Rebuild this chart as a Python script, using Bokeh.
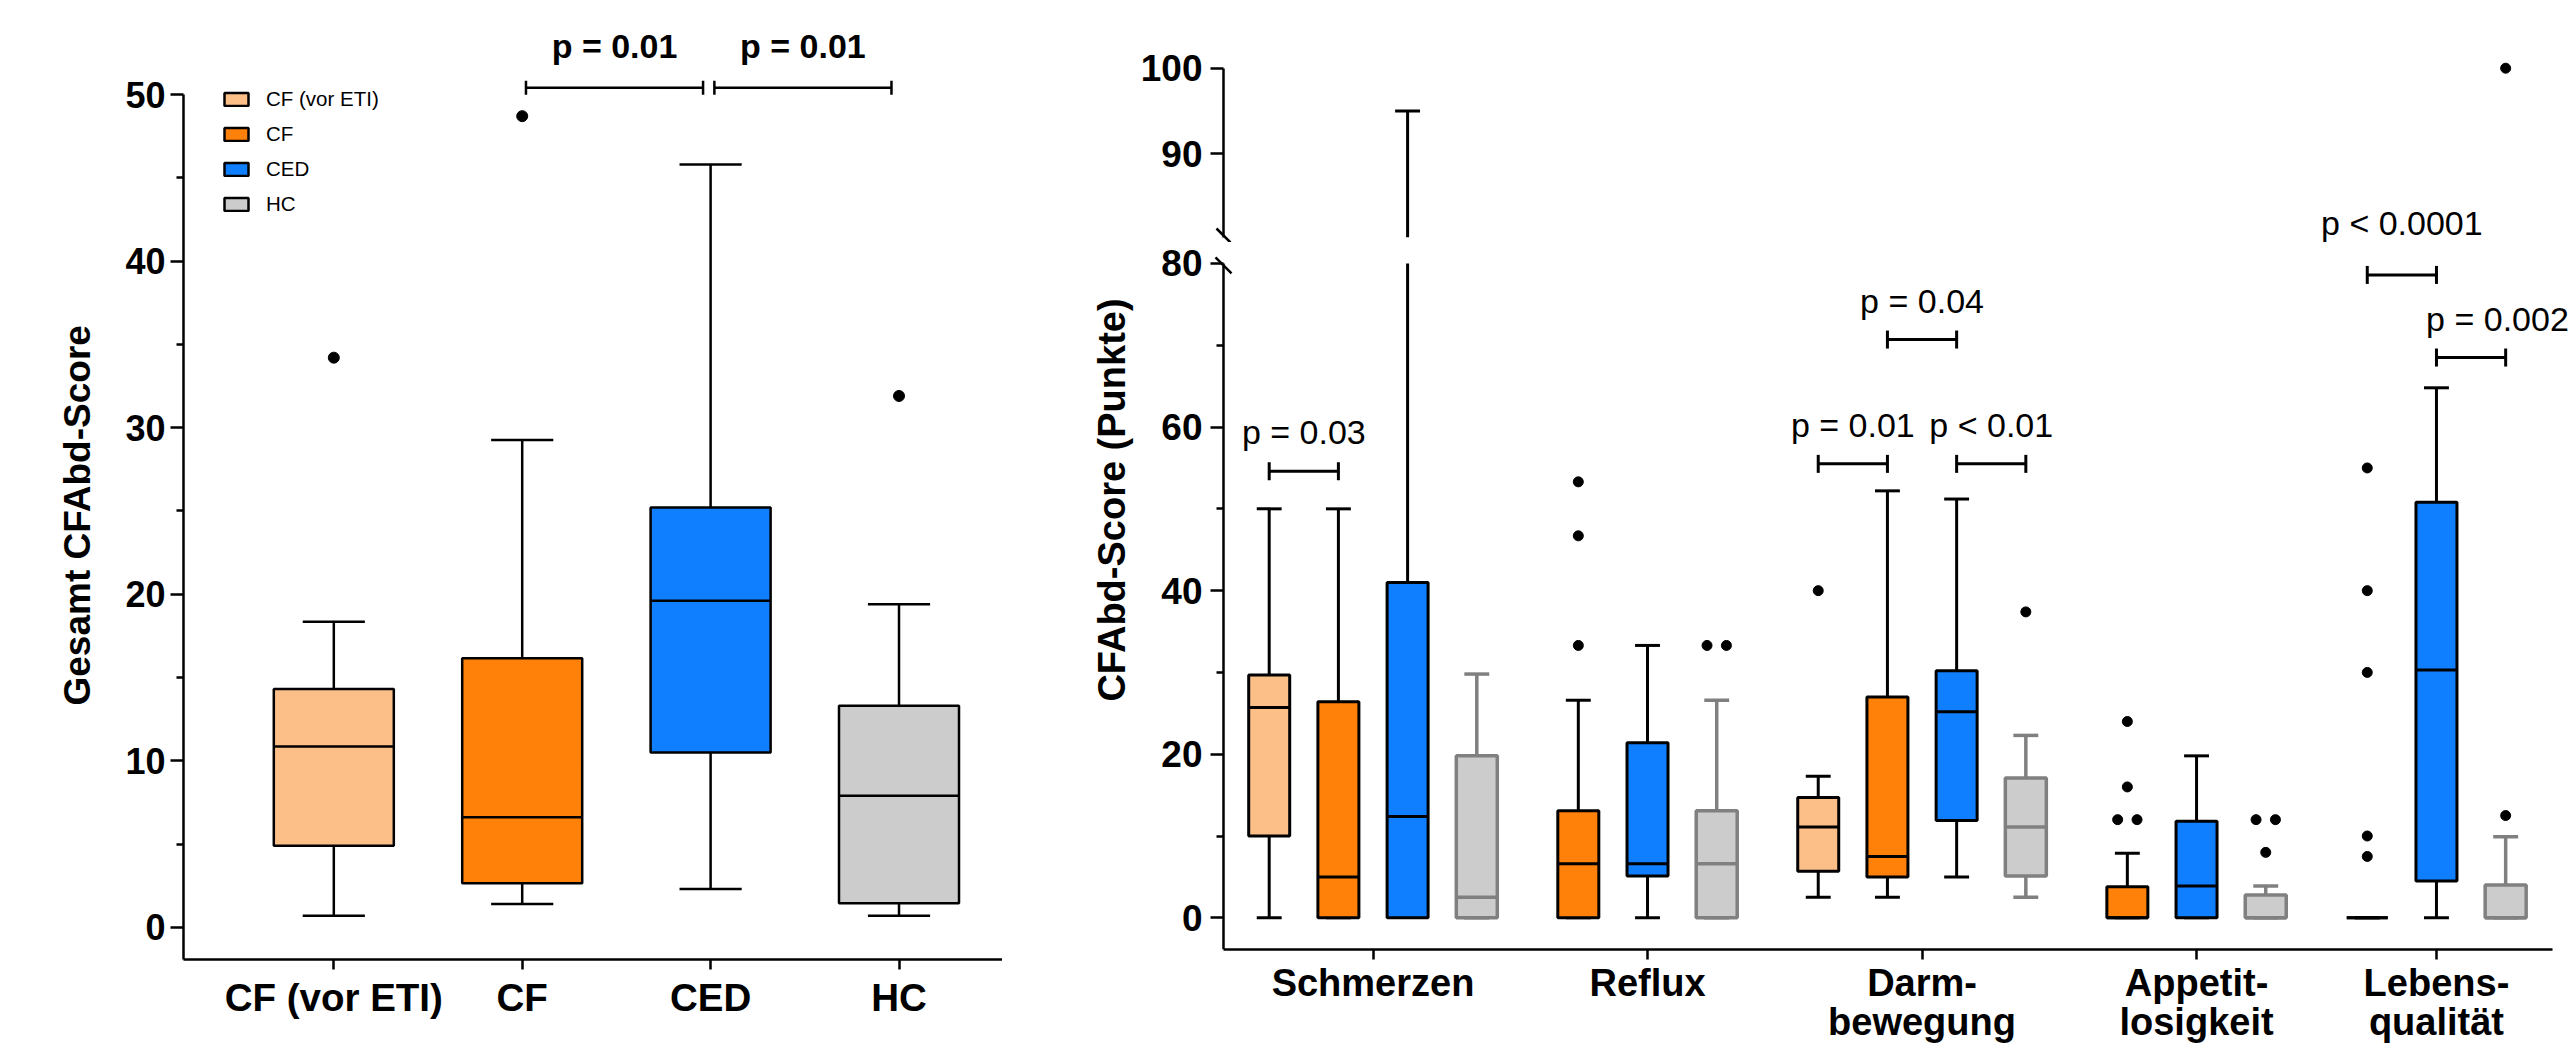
import math
from collections import defaultdict

from bokeh.embed import file_html
from bokeh.layouts import column, row
from bokeh.models import ColumnDataSource, FixedTicker, Label, Legend, LegendItem, Range1d, Title
from bokeh.plotting import figure
from bokeh.resources import INLINE

# ======================= DATA =======================
# Left panel: Gesamt CFAbd-Score
groups = ["CF (vor ETI)", "CF", "CED", "HC"]
total_low = [0.7, 1.4, 2.3, 0.7]
total_q1 = [4.9, 2.65, 10.5, 1.45]
total_median = [10.85, 6.6, 19.6, 7.9]
total_q3 = [14.3, 16.15, 25.2, 13.3]
total_high = [18.35, 29.25, 45.8, 19.4]
total_outlier_group = ["CF (vor ETI)", "CF", "HC"]
total_outlier_value = [34.2, 48.7, 31.9]
total_test_a = ["CF", "CED"]
total_test_b = ["CED", "HC"]
total_test_y = [50.4, 50.4]
total_test_text = ["p = 0.01", "p = 0.01"]

# Right panel: CFAbd domains
domains = ["Schmerzen", "Reflux", "Darm-\nbewegung", "Appetit-\nlosigkeit", "Lebens-\nqualität"]
box_domain = [0, 0, 0, 0, 1, 1, 1, 2, 2, 2, 2, 3, 3, 3, 4, 4, 4]
box_group = ["CF (vor ETI)", "CF", "CED", "HC",
             "CF", "CED", "HC",
             "CF (vor ETI)", "CF", "CED", "HC",
             "CF", "CED", "HC",
             "CF", "CED", "HC"]
dom_low = [0, 0, 0, 0, 0, 0, 0, 2.5, 2.5, 5, 2.5, 0, 0, 0, 0, 0, 0]
dom_q1 = [10, 0, 0, 0, 0, 5.1, 0, 5.7, 5, 11.9, 5.1, 0, 0, 0, 0, 4.5, 0]
dom_median = [25.7, 5, 12.4, 2.5, 6.6, 6.6, 6.6, 11.1, 7.5, 25.2, 11.1, 0, 3.9, 0, 0, 30.3, 0]
dom_q3 = [29.7, 26.4, 41, 19.8, 13.1, 21.4, 13.1, 14.7, 27, 30.2, 17.1, 3.8, 11.8, 2.8, 0, 50.8, 4]
dom_high = [50, 50, 95, 29.8, 26.6, 33.3, 26.6, 17.3, 52.2, 51.2, 22.3, 7.9, 19.8, 3.9, 0, 64.8, 9.9]
outlier_box = [4, 4, 4, 6, 6, 7, 10, 11, 11, 11, 11, 13, 13, 13, 14, 14, 14, 14, 14, 16, 16]
outlier_value = [53.3, 46.7, 33.3, 33.3, 33.3, 40, 37.4, 24, 16, 12, 12, 12, 12, 8,
                 55, 40, 30, 10, 7.5, 12.5, 100]
test_box_a = [0, 7, 8, 9, 14, 15]
test_box_b = [1, 8, 9, 10, 15, 16]
test_y = [54.6, 55.5, 70.7, 55.5, 78.6, 68.5]
test_text = ["p = 0.03", "p = 0.01", "p = 0.04", "p < 0.01", "p < 0.0001", "p = 0.002"]

# ======================= STYLE =======================
FONT = "Liberation Sans"
FILL = {"CF (vor ETI)": "#FCBF88", "CF": "#FF810A", "CED": "#0F7FFF", "HC": "#CCCCCC"}
EDGE_R = {"CF (vor ETI)": "black", "CF": "black", "CED": "black", "HC": "#808080"}
LW_R = {"CF (vor ETI)": 3.0, "CF": 3.0, "CED": 3.0, "HC": 3.5}
TEST_ALIGN = ["center", "center", "center", "center", "center", "left"]


def style_axis(ax, size, tick_out, standoff):
    ax.axis_line_width = 2.5
    ax.axis_line_color = "black"
    ax.major_tick_line_width = 2.5
    ax.minor_tick_line_width = 2.5
    ax.major_tick_line_color = "black"
    ax.minor_tick_line_color = "black"
    ax.major_tick_in = 0
    ax.minor_tick_in = 0
    ax.major_tick_out = tick_out
    ax.minor_tick_out = 7
    ax.major_label_standoff = standoff
    ax.major_label_text_font = FONT
    ax.major_label_text_font_style = "bold"
    ax.major_label_text_font_size = size
    ax.major_label_text_color = "black"


def clean(fig):
    fig.outline_line_color = None
    fig.grid.visible = False
    fig.background_fill_color = "white"
    fig.border_fill_color = "white"


TOTAL_H = 1049

# ======================= LEFT PANEL =======================
L_W = 1002
L_MT, L_MB, L_ML, L_MR = 10, 90, 183, 0
L_FRAME_H = TOTAL_H - L_MT - L_MB
L_FRAME_W = L_W - L_ML - L_MR
L_Y0 = -1.933
L_SCALE = 16.656
L_Y1 = L_Y0 + L_FRAME_H / L_SCALE
L_X0 = -0.7978
L_X1 = L_X0 + L_FRAME_W / 188.4
BW_L, CW_L = 0.637, 0.33

left = figure(width=L_W, height=TOTAL_H, x_range=Range1d(L_X0, L_X1), y_range=Range1d(L_Y0, L_Y1),
              output_backend="svg", toolbar_location=None,
              min_border_left=L_ML, min_border_right=L_MR, min_border_top=L_MT, min_border_bottom=L_MB)
clean(left)

lx = list(range(len(groups)))
lsrc = ColumnDataSource(dict(
    x=lx, lo=total_low, q1=total_q1, med=total_median, q3=total_q3, hi=total_high,
    bl=[v - BW_L / 2 for v in lx], br=[v + BW_L / 2 for v in lx],
    cl=[v - CW_L / 2 for v in lx], cr=[v + CW_L / 2 for v in lx]))
for y0, y1 in (("q3", "hi"), ("q1", "lo")):
    left.segment(x0="x", y0=y0, x1="x", y1=y1, source=lsrc, line_color="black", line_width=2.5)
for yy in ("hi", "lo"):
    left.segment(x0="cl", y0=yy, x1="cr", y1=yy, source=lsrc, line_color="black", line_width=2.5)
items = []
for i, g in enumerate(groups):
    r = left.vbar(x=[i], width=BW_L, bottom=[total_q1[i]], top=[total_q3[i]],
                  fill_color=FILL[g], line_color="black", line_width=2.5)
    items.append(LegendItem(label=g, renderers=[r]))
left.segment(x0="bl", y0="med", x1="br", y1="med", source=lsrc, line_color="black", line_width=2.5)
left.scatter(x=[groups.index(g) for g in total_outlier_group], y=total_outlier_value,
             size=11, color="black")

tk_l = 7 / L_SCALE
for a, b, y, t in zip(total_test_a, total_test_b, total_test_y, total_test_text):
    xa, xb = groups.index(a) + 0.02, groups.index(b) - 0.04
    left.segment(x0=[xa, xa, xb], y0=[y, y - tk_l, y - tk_l], x1=[xb, xa, xb], y1=[y, y + tk_l, y + tk_l],
                 line_color="black", line_width=2.5)
    left.add_layout(Label(x=(xa + xb) / 2, y=y + 41.5 / L_SCALE, text=t, text_align="center",
                          text_baseline="middle", text_font=FONT, text_font_style="bold",
                          text_font_size="34px", text_color="black"))

leg = Legend(items=items, location=(38, 743), orientation="vertical", padding=0, margin=0, spacing=11,
             glyph_width=30, glyph_height=16, label_standoff=15, label_height=16,
             label_text_font=FONT, label_text_font_size="20.5px", label_text_color="black",
             border_line_color=None, background_fill_alpha=0)
left.add_layout(leg)

yax = left.yaxis[0]
yax.ticker = FixedTicker(ticks=[0, 10, 20, 30, 40, 50], minor_ticks=[5, 15, 25, 35, 45])
yax.bounds = (L_Y0, 50)
style_axis(yax, "36px", 13, 5)
xax = left.xaxis[0]
xax.ticker = FixedTicker(ticks=lx)
xax.major_label_overrides = {i: g for i, g in enumerate(groups)}
style_axis(xax, "38.5px", 10, 6)
left.add_layout(Title(text="Gesamt CFAbd-Score", align="left", offset=254, standoff=50,
                      text_font=FONT, text_font_style="bold", text_font_size="37px",
                      text_color="black"), "left")

# ======================= RIGHT PANEL (broken y axis) =======================
GROUP_GAP = 0.467
slot = []
for k, d in enumerate(box_domain):
    if k == 0:
        slot.append(0.0)
    elif d == box_domain[k - 1]:
        slot.append(slot[-1] + 1.0)
    else:
        slot.append(slot[-1] + 1.0 + GROUP_GAP)
centers = []
for di in range(len(domains)):
    s = [slot[k] for k, d in enumerate(box_domain) if d == di]
    centers.append(sum(s) / len(s))

R_X_CANVAS = L_W
R_W = 2572 - L_W
R_ML, R_MR = 88, 0
X_SCALE = 69.2
SLOT0_PX = 1268.7          # page x of the first box
X0 = (R_X_CANVAS + R_ML - SLOT0_PX) / X_SCALE
X1 = X0 + (R_W - R_ML - R_MR) / X_SCALE
XS = (1223 - SLOT0_PX) / X_SCALE     # data x where the y axis sits
XE = (2551.6 - SLOT0_PX) / X_SCALE   # right end of the x axis line
xr = Range1d(X0, X1)
BW_R, CW_R = 0.5925, 0.36

BREAK_LOW, BREAK_HIGH = 80.0, 80.26   # axis break

TOP_H, TOP_MT, TOP_MB = 242, 40, 0
TOP_SCALE = 8.57
TOP_Y1 = 100 + (67.7 - TOP_MT) / TOP_SCALE
TOP_Y0 = TOP_Y1 - (TOP_H - TOP_MT - TOP_MB) / TOP_SCALE
LOW_H = TOTAL_H - TOP_H
LOW_MT, LOW_MB = 0, 100
LOW_SCALE = 8.179
LOW_Y0 = -3.876
LOW_Y1 = LOW_Y0 + (LOW_H - LOW_MT - LOW_MB) / LOW_SCALE

top = figure(width=R_W, height=TOP_H, x_range=xr, y_range=Range1d(TOP_Y0, TOP_Y1),
             x_axis_location=None, output_backend="svg", toolbar_location=None,
             min_border_left=R_ML, min_border_right=R_MR,
             min_border_top=TOP_MT, min_border_bottom=TOP_MB)
low = figure(width=R_W, height=LOW_H, x_range=xr, y_range=Range1d(LOW_Y0, LOW_Y1),
             output_backend="svg", toolbar_location=None,
             min_border_left=R_ML, min_border_right=R_MR,
             min_border_top=LOW_MT, min_border_bottom=LOW_MB)
clean(top)
clean(low)

n = len(slot)
rsrc = ColumnDataSource(dict(
    x=slot, lo=dom_low, q1=dom_q1, med=dom_median, q3=dom_q3,
    hi=[min(h, BREAK_LOW) for h in dom_high],
    bl=[v - BW_R / 2 for v in slot], br=[v + BW_R / 2 for v in slot],
    fill=[FILL[g] for g in box_group], edge=[EDGE_R[g] for g in box_group],
    lw=[LW_R[g] for g in box_group]))
cap_idx = [k for k in range(n) if dom_high[k] <= BREAK_LOW]
csrc = ColumnDataSource(dict(
    cl=[slot[k] - CW_R / 2 for k in cap_idx], cr=[slot[k] + CW_R / 2 for k in cap_idx],
    hi=[dom_high[k] for k in cap_idx], lo=[dom_low[k] for k in cap_idx],
    edge=[EDGE_R[box_group[k]] for k in cap_idx], lw=[LW_R[box_group[k]] for k in cap_idx]))
up_idx = [k for k in range(n) if dom_high[k] > BREAK_HIGH]
usrc = ColumnDataSource(dict(
    x=[slot[k] for k in up_idx], base=[BREAK_HIGH] * len(up_idx), hi=[dom_high[k] for k in up_idx],
    cl=[slot[k] - CW_R / 2 for k in up_idx], cr=[slot[k] + CW_R / 2 for k in up_idx],
    edge=[EDGE_R[box_group[k]] for k in up_idx], lw=[LW_R[box_group[k]] for k in up_idx]))

# lower segment of the broken axis
low.segment(x0="x", y0="q3", x1="x", y1="hi", source=rsrc, line_color="edge", line_width="lw")
low.segment(x0="x", y0="q1", x1="x", y1="lo", source=rsrc, line_color="edge", line_width="lw")
for yy in ("hi", "lo"):
    low.segment(x0="cl", y0=yy, x1="cr", y1=yy, source=csrc, line_color="edge", line_width="lw")
low.vbar(x="x", width=BW_R, bottom="q1", top="q3", source=rsrc,
         fill_color="fill", line_color="edge", line_width="lw")
low.segment(x0="bl", y0="med", x1="br", y1="med", source=rsrc, line_color="edge", line_width="lw")

# upper segment of the broken axis
top.segment(x0="x", y0="base", x1="x", y1="hi", source=usrc, line_color="edge", line_width="lw")
top.segment(x0="cl", y0="hi", x1="cr", y1="hi", source=usrc, line_color="edge", line_width="lw")

# outliers (tied values are spread sideways, as in the original)
ties = defaultdict(list)
for k, (b, v) in enumerate(zip(outlier_box, outlier_value)):
    ties[(b, v)].append(k)
ox = [0.0] * len(outlier_box)
for (b, v), ks in ties.items():
    m = len(ks)
    for j, k in enumerate(ks):
        ox[k] = slot[b] + (j - (m - 1) / 2) * 0.28
lo_pts = [k for k in range(len(ox)) if outlier_value[k] <= BREAK_LOW]
hi_pts = [k for k in range(len(ox)) if outlier_value[k] > BREAK_HIGH]
low.scatter(x=[ox[k] for k in lo_pts], y=[outlier_value[k] for k in lo_pts], size=10, color="black")
top.scatter(x=[ox[k] for k in hi_pts], y=[outlier_value[k] for k in hi_pts], size=10, color="black")

# pixel <-> data helpers for the two stacked frames (page pixels)
LOW_FRAME_BOTTOM = TOP_H + LOW_H - LOW_MB
TOP_FRAME_TOP = TOP_MT
TOP_FRAME_BOTTOM = TOP_H - TOP_MB


def low_to_px(v):
    return LOW_FRAME_BOTTOM - (v - LOW_Y0) * LOW_SCALE


def px_to_top(py):
    return TOP_Y1 - (py - TOP_FRAME_TOP) / TOP_SCALE


def px_to_low(py):
    return LOW_Y0 + (LOW_FRAME_BOTTOM - py) / LOW_SCALE


# significance brackets
tk_r = 9 / LOW_SCALE
for a, b, y, t, al in zip(test_box_a, test_box_b, test_y, test_text, TEST_ALIGN):
    xa, xb = slot[a], slot[b]
    low.segment(x0=[xa, xa, xb], y0=[y, y - tk_r, y - tk_r], x1=[xb, xa, xb], y1=[y, y + tk_r, y + tk_r],
                line_color="black", line_width=3)
    cy = low_to_px(y) - 39
    tx = (xa + xb) / 2 if al == "center" else xa - 0.15
    if cy - 20 < TOP_FRAME_BOTTOM:
        target, ty = top, px_to_top(min(cy, TOP_FRAME_BOTTOM - 20))
    else:
        target, ty = low, px_to_low(cy)
    target.add_layout(Label(x=tx, y=ty, text=t, text_align=al, text_baseline="middle",
                            text_font=FONT, text_font_style="normal", text_font_size="34px",
                            text_color="black"))

# axes
tyax = top.yaxis[0]
tyax.ticker = FixedTicker(ticks=[90, 100])
tyax.bounds = (BREAK_HIGH, 100)
tyax.fixed_location = XS
style_axis(tyax, "37px", 13, 8)

lyax = low.yaxis[0]
lyax.ticker = FixedTicker(ticks=[0, 20, 40, 60, 80], minor_ticks=[10, 30, 50, 70])
lyax.bounds = (LOW_Y0, BREAK_LOW)
lyax.fixed_location = XS
style_axis(lyax, "37px", 13, 8)

lxax = low.xaxis[0]
lxax.ticker = FixedTicker(ticks=centers)
lxax.major_label_overrides = {c: name for c, name in zip(centers, domains)}
lxax.bounds = (XS, XE)
style_axis(lxax, "38px", 10, 2)
lxax.major_label_text_line_height = 0.95

# y-axis title, centred on the whole broken axis
low.add_layout(Label(x=(1111 - SLOT0_PX) / X_SCALE, y=px_to_low(499.5), text="CFAbd-Score (Punkte)",
                     angle=math.pi / 2, text_align="center", text_baseline="middle",
                     text_font=FONT, text_font_style="bold", text_font_size="38px",
                     text_color="black"))

# break marks on the y axis
d_top = 7
top.segment(x0=[XS - d_top / X_SCALE], y0=[px_to_top(235 - d_top)],
            x1=[XS + d_top / X_SCALE], y1=[px_to_top(235 + d_top)], line_color="black", line_width=2.5)
d_low = 8
yb = low_to_px(BREAK_LOW) + 2
low.segment(x0=[XS - d_low / X_SCALE], y0=[px_to_low(yb - d_low)],
            x1=[XS + d_low / X_SCALE], y1=[px_to_low(yb + d_low)], line_color="black", line_width=2.5)

layout = row(left, column(top, low))
with open("out.html", "w") as f:
    f.write(file_html(layout, INLINE))
